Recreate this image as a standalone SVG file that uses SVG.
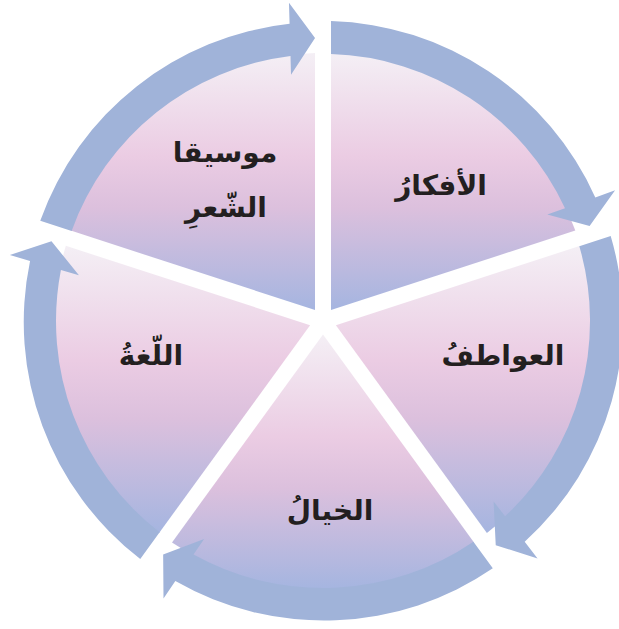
<svg xmlns="http://www.w3.org/2000/svg" xmlns:xlink="http://www.w3.org/1999/xlink" width="619" height="629" viewBox="0 0 619 629">
  <style>
    .wedge { fill: url(#wg); }
    .ring { fill: #A0B3D9; }
    .lbl { font-family: "DejaVu Sans", sans-serif; font-size: 28px; font-weight: bold; fill: #231F20; text-anchor: middle; direction: rtl; }
  </style>
  <defs>
    <linearGradient id="wg" x1="0" y1="0" x2="0" y2="1">
      <stop offset="0" stop-color="#F4EFF5"/>
      <stop offset="0.4" stop-color="#EBCCE3"/>
      <stop offset="0.6" stop-color="#DCC0DD"/>
      <stop offset="1" stop-color="#A5B5E0"/>
    </linearGradient>
    <path id="arr" class="ring" d="M331.0,54.1 L331.0,21.1 A299,299 0 0 1 595.3,197.4 L615.1,190.3 L589.6,226.0 L547.3,214.5 L565.0,208.2 A267,267 0 0 0 331.0,54.1 Z"/>
  </defs>
  <rect width="619" height="629" fill="#FFFFFF"/>

  <g id="node-afkar">
    <path class="wedge" d="M331.0,310.0 L331.0,53.1 A268,268 0 0 1 575.3,230.6 Z"/>
    <text class="lbl" x="441" y="195">الأفكارُ</text>
  </g>
  <g id="node-awatif">
    <path class="wedge" d="M335.9,325.2 L580.2,245.8 A268,268 0 0 1 486.9,533.0 Z"/>
    <text class="lbl" x="503" y="365">العواطفُ</text>
  </g>
  <g id="node-khayal">
    <path class="wedge" d="M323,334.6 L474.0,542.4 A268,268 0 0 1 172.0,542.4 Z"/>
    <text class="lbl" x="330" y="520">الخيالُ</text>
  </g>
  <g id="node-lugha">
    <path class="wedge" d="M310.1,325.2 L159.1,533.0 A268,268 0 0 1 65.8,245.8 Z"/>
    <text class="lbl" x="151" y="365">اللّغةُ</text>
  </g>
  <g id="node-musiqa">
    <path class="wedge" d="M315.0,310.0 L70.7,230.6 A268,268 0 0 1 315.0,53.1 Z"/>
    <text class="lbl" x="225" y="162">موسيقا</text>
    <text class="lbl" x="226" y="217">الشّعرِ</text>
  </g>

  <g id="connectors">
    <use xlink:href="#arr"/>
    <use xlink:href="#arr" transform="rotate(72 323 321)"/>
    <use xlink:href="#arr" transform="rotate(144 323 321)"/>
    <use xlink:href="#arr" transform="rotate(216 323 321)"/>
    <use xlink:href="#arr" transform="rotate(288 323 321)"/>
  </g>
</svg>
